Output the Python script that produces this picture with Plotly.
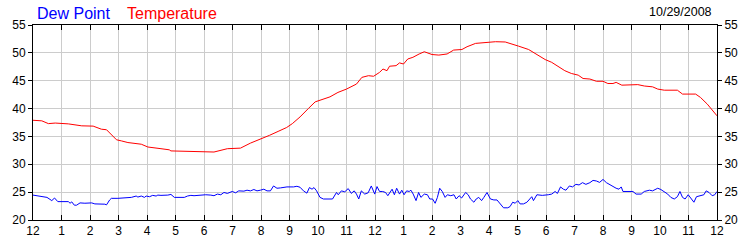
import plotly.graph_objects as go

# ---- data ----
hour_tick_vals = list(range(25))
hour_tick_text = ["12", "1", "2", "3", "4", "5", "6", "7", "8", "9", "10", "11",
                  "12", "1", "2", "3", "4", "5", "6", "7", "8", "9", "10", "11", "12"]
y_tick_vals = [20, 25, 30, 35, 40, 45, 50, 55]
date_label = "10/29/2008"

temp_hours = [0, 0.31, 0.54, 0.78, 1.24, 1.71, 2.11, 2.40, 2.58, 2.75, 2.93, 3.10, 3.33, 3.80,
              4.03, 4.49, 4.78, 4.84, 5.42, 5.60, 5.77, 6.35, 6.82, 7.28, 7.63, 8.0, 8.3, 8.6,
              8.9, 9.1, 9.37, 9.66, 9.90, 10.42, 10.70, 11.0, 11.35, 11.54, 11.77, 11.95, 12.16,
              12.28, 12.42, 12.51, 12.74, 12.86, 13.0, 13.15, 13.33, 13.55, 13.73, 14.0, 14.24,
              14.53, 14.76, 15.05, 15.23, 15.53, 15.88, 16.23, 16.57, 16.81, 17.04, 17.39, 17.62,
              17.85, 17.97, 18.20, 18.43, 18.66, 18.89, 19.13, 19.30, 19.54, 19.77, 20.0, 20.17,
              20.35, 20.46, 20.66, 21.22, 21.45, 21.74, 21.92, 22.15, 22.61, 22.79, 23.25, 23.42,
              23.66, 24.0]
temp_values = [37.9, 37.8, 37.3, 37.4, 37.25, 36.9, 36.85, 36.3, 36.2, 35.4, 34.4, 34.2, 33.9, 33.6,
               33.1, 32.8, 32.6, 32.4, 32.3, 32.2, 32.25, 32.2, 32.8, 32.9, 33.8, 34.5, 35.2, 35.9,
               36.6, 37.3, 38.5, 40.0, 41.2, 42.1, 42.9, 43.5, 44.4, 45.6, 45.9, 45.8, 46.5,
               47.1, 46.8, 47.6, 47.7, 48.2, 48.0, 48.9, 49.2, 49.8, 50.2, 49.7, 49.6,
               49.8, 50.5, 50.6, 51.1, 51.7, 51.8, 52.0, 51.95, 51.6, 51.2, 50.6, 49.9,
               49.3, 48.8, 48.3, 47.5, 46.8, 46.3, 46.0, 45.4, 45.3, 44.9, 44.9, 44.5,
               44.5, 44.7, 44.2, 44.3, 44.05, 43.9, 43.5, 43.3, 43.3, 42.6, 42.6, 42.0,
               40.8, 38.7]

dew_hours = [0.0, 0.49, 0.66, 0.755, 0.87, 1.24, 1.30, 1.36, 1.45, 1.53, 1.65, 1.82, 2.06, 2.17,
             2.52, 2.58, 2.69, 2.75, 2.98, 3.10, 3.33, 3.45, 3.62, 3.68, 3.80, 3.91, 3.97, 4.09,
             4.20, 4.32, 4.38, 4.49, 4.73, 4.84, 4.96, 5.31, 5.42, 5.54, 5.65, 5.77, 6.06,
             6.24, 6.35, 6.47, 6.59, 6.70, 6.82, 6.99, 7.11, 7.22, 7.40, 7.51, 7.63, 7.75, 7.86,
             7.98, 8.10, 8.21, 8.33, 8.44, 8.56, 8.68, 8.91, 9.14, 9.26, 9.37, 9.49, 9.61, 9.70,
             9.79, 9.86, 9.95, 10.07, 10.19, 10.42, 10.51, 10.65, 10.71, 10.82, 10.94, 11.06,
             11.17, 11.27, 11.35, 11.43, 11.52, 11.64, 11.76, 11.87, 11.95,
             11.99, 12.07, 12.16, 12.27, 12.37, 12.45, 12.53, 12.60, 12.68, 12.76, 12.86, 12.94,
             13.02, 13.11, 13.20, 13.26, 13.34, 13.44, 13.53, 13.61, 13.73, 13.84, 13.92, 14.02,
             14.11, 14.19, 14.27, 14.36, 14.46, 14.54, 14.66, 14.77, 14.85, 14.95, 15.04, 15.18,
             15.27, 15.35, 15.47, 15.55, 15.64, 15.74, 15.82, 15.93, 16.05, 16.17, 16.28, 16.40,
             16.51, 16.66, 16.74, 16.83, 16.92, 17.01, 17.09, 17.21, 17.33, 17.50, 17.56, 17.68,
             17.79, 17.87,
             18.08, 18.20, 18.32, 18.40, 18.51, 18.61, 18.70, 18.82, 18.93, 19.05, 19.16, 19.28,
             19.40, 19.54, 19.65, 19.77, 19.88, 20.0, 20.12, 20.23, 20.35, 20.46, 20.56, 20.64,
             20.70, 20.87, 21.05, 21.16, 21.34, 21.45, 21.63, 21.74, 21.92, 22.03, 22.15, 22.27,
             22.38, 22.50, 22.61, 22.70, 22.79, 22.88, 22.99, 23.11, 23.19, 23.28, 23.40, 23.54,
             23.62, 23.72, 23.83, 23.92, 24.0]
dew_values = [24.47, 24.06, 23.48, 23.95, 23.30, 23.30, 23.01, 23.25, 22.66, 22.66, 23.07, 23.01, 23.07, 22.89,
              22.84, 22.72, 23.6, 23.89, 23.89, 23.95, 23.95, 24.06, 24.3, 24.12, 24.3, 24.06, 24.3, 24.18,
              24.42, 24.3, 24.47, 24.42, 24.47, 24.59, 24.06, 24.06, 24.3, 24.42, 24.36, 24.42, 24.53,
              24.47, 24.36, 24.65, 24.53, 24.94, 24.77, 25.12, 24.88, 25.23, 25.18, 25.35, 25.23, 25.47, 25.23,
              25.35, 25.53, 25.23, 25.23, 26.11, 25.70, 25.76, 25.94, 25.94, 26.05, 25.88, 25.23, 24.82, 25.82,
              25.53, 25.82, 25.23, 24.06, 23.77, 23.77, 23.77, 24.94, 24.53, 25.23, 25.06, 25.64,
              24.77, 25.23, 24.65, 23.77, 25.23, 24.65, 24.88, 26.11, 24.94,
              24.65, 26.0, 25.12, 25.12, 24.94, 24.36, 24.94, 25.53, 24.53, 25.70, 24.65, 25.35,
              24.53, 25.23, 25.12, 25.35, 24.65, 23.48, 24.94, 24.06, 24.65, 24.53, 23.77, 23.77,
              23.0, 24.06, 25.70, 25.12, 24.06, 24.53, 24.36, 24.53, 23.77, 24.36, 23.95, 24.94,
              24.53, 23.77, 23.19, 23.77, 24.06, 23.48, 24.06, 24.94, 23.77, 23.60, 23.60, 22.89,
              22.19, 22.19, 22.42, 23.19, 23.01, 23.48, 22.89, 22.89, 23.19, 24.18, 23.48, 24.53,
              24.42, 24.42,
              24.53, 24.65, 25.12, 24.77, 25.94, 25.53, 25.35, 26.11, 25.94, 26.40, 26.29, 26.70,
              26.40, 26.70, 27.11, 27.0, 26.75, 27.28, 26.70, 26.40, 25.94, 25.70, 25.53, 25.94,
              25.12, 25.12, 25.12, 24.65, 24.65, 25.12, 25.35, 25.23, 25.70, 25.47, 25.12, 24.65,
              24.06, 23.77, 24.18, 25.12, 24.06, 23.77, 24.53, 23.77, 23.19, 24.18, 24.36, 24.53,
              25.23, 24.94, 24.36, 24.53, 25.12]

FONT = "Liberation Sans, Arial, sans-serif"

fig = go.Figure()
fig.add_trace(go.Scatter(x=temp_hours, y=temp_values, mode="lines", name="Temperature",
                         line=dict(color="#FF0000", width=1)))
fig.add_trace(go.Scatter(x=dew_hours, y=dew_values, mode="lines", name="Dew Point",
                         line=dict(color="#0000FF", width=1), yaxis="y2"))

fig.update_layout(
    width=750, height=250,
    margin=dict(l=31, r=30, t=25, b=25),
    paper_bgcolor="white", plot_bgcolor="white",
    showlegend=False,
    font=dict(family=FONT, size=12, color="black"),
    xaxis=dict(range=[0, 24], tickvals=hour_tick_vals, ticktext=hour_tick_text,
               showgrid=True, gridcolor="#cccccc", gridwidth=1,
               showline=True, linecolor="black", linewidth=1, mirror="ticks",
               ticks="inside", ticklen=5, tickcolor="black", zeroline=False,
               tickfont=dict(family=FONT, size=12, color="black")),
    yaxis=dict(range=[20, 55], tickvals=y_tick_vals,
               showgrid=True, gridcolor="#cccccc", gridwidth=1,
               showline=True, linecolor="black", linewidth=1, mirror=True,
               ticks="outside", ticklen=4, tickcolor="black", zeroline=False,
               tickfont=dict(family=FONT, size=12, color="black")),
    yaxis2=dict(range=[20, 55], tickvals=y_tick_vals, overlaying="y", side="right",
                showgrid=False, showline=True, linecolor="black", linewidth=1,
                ticks="outside", ticklen=4, tickcolor="black", zeroline=False,
                tickfont=dict(family=FONT, size=12, color="black")),
    annotations=[
        dict(text="Dew Point", xref="paper", yref="paper", x=0.003, y=1.06,
             xanchor="left", yanchor="middle", showarrow=False,
             font=dict(family=FONT, size=16, color="#0000FF")),
        dict(text="Temperature", xref="paper", yref="paper", x=0.135, y=1.06,
             xanchor="left", yanchor="middle", showarrow=False,
             font=dict(family=FONT, size=16, color="#FF0000")),
        dict(text=date_label, xref="paper", yref="paper", x=0.9955, y=1.065,
             xanchor="right", yanchor="middle", showarrow=False,
             font=dict(family=FONT, size=12.5, color="black")),
    ],
)

fig.write_html("out.html")
